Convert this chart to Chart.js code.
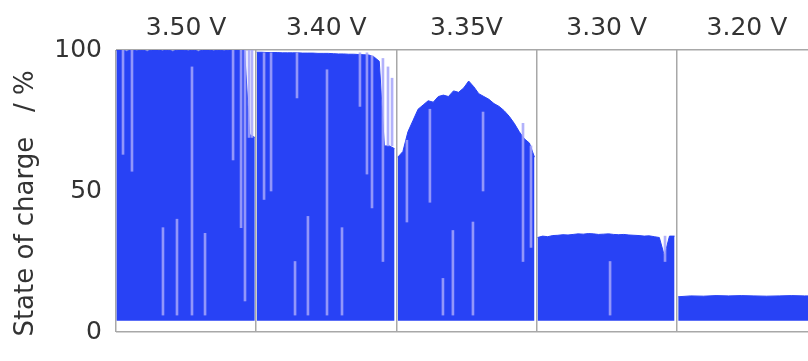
<!DOCTYPE html>
<html>
<head>
<meta charset="utf-8">
<script src="https://cdn.jsdelivr.net/npm/chart.js@4/dist/chart.umd.min.js"></script>
<style>
  html, body { margin: 0; padding: 0; background: #fff; overflow: hidden; }
  #wrap { width: 808px; height: 361px; overflow: hidden; }
  canvas { display: block; }
</style>
</head>
<body>
<div id="wrap"><canvas id="c" width="830" height="361"></canvas></div>
<script>
// ---- data ----
const panelLabels = ["3.50 V", "3.40 V", "3.35V", "3.30 V", "3.20 V"];
const baseSoc = [4, 4, 4, 4, 4];               // lower edge of the oscillation, %
const spanStart = [0.003, 0.004, 0.01, 0.007, 0.01]; // fraction of each test period with data
const spanEnd   = [0.99, 0.987, 0.985, 0.984, 1.0];

// upper envelope of state of charge, % (evenly sampled over each test period)
const soc350 = [100, 100, 99.6, 100, 99.7, 100, 99.6, 100, 100, 99.7, 100, 99.6, 100, 100,
                99.7, 100, 99.6, 100, 100, 99.7, 100, 99.7, 100, 100, 100, 100, 70, 69];
const soc340 = [99.2, 99.2, 99.1, 99.1, 99.1, 99, 99, 99, 99, 98.9, 98.9, 98.9, 98.8, 98.8,
                98.8, 98.7, 98.6, 98.6, 98.5, 98.5, 98.4, 98.3, 98.2, 97.5, 96, 66, 66, 65];
const soc335 = [62, 64, 71, 75, 79, 80.5, 82, 81.5, 83.5, 84, 83.5, 85.5, 85, 86.5,
                89, 87, 84.5, 83.5, 82.5, 81, 80, 78.5, 76.5, 74, 71, 68.5, 67, 62];
const soc330 = [33.5, 34.0, 33.8, 34.2, 34.3, 34.5, 34.4, 34.6, 34.8, 34.7, 34.9, 34.8, 34.6, 34.7,
                34.8, 34.6, 34.5, 34.6, 34.4, 34.3, 34.2, 34.0, 34.1, 33.8, 33.5, 27, 34.0, 34.0];
const soc320 = [12.5, 12.8, 12.7, 12.9, 12.8, 12.9, 12.8, 12.7, 12.8, 12.9, 12.8, 12.8];
const envelopes = [soc350, soc340, soc335, soc330, soc320];

// lighter streaks (sparser excursions): time position (panel units), low %, high %
const streakTime = [0.050, 0.114, 0.335, 0.435, 0.542, 0.635, 0.835, 0.892, 0.920, 0.949, 0.970,
                    1.056, 1.106, 1.291, 1.277, 1.369, 1.505, 1.612, 1.740, 1.790, 1.826, 1.904, 1.940, 1.969,
                    2.075, 2.239, 2.332, 2.403, 2.546, 2.618, 2.903, 2.960,
                    3.524, 3.916];
const streakLow  = [63, 57, 6, 6, 6, 6, 61, 37, 11, 69, 69,
                    47, 50, 83, 6, 6, 6, 6, 80, 56, 44, 25, 66, 66,
                    39, 46, 6, 6, 6, 50, 25, 30,
                    6, 25];
const streakHigh = [100, 100, 37, 40, 94, 35, 100, 100, 100, 100, 100,
                    99, 99, 99, 25, 41, 93, 37, 99, 99, 98, 97, 94, 90,
                    68, 79, 19, 36, 39, 78, 74, 66,
                    25, 34];

// ---- build datasets ----
const BLUE = '#2842f5';
const datasets = envelopes.map((vals, p) => {
  const n = vals.length;
  const s = spanStart[p], e = spanEnd[p];
  return {
    type: 'line',
    order: 2,
    data: vals.map((v, i) => ({ x: p + s + (e - s) * i / (n - 1), y: v })),
    borderColor: BLUE,
    borderWidth: 1,
    backgroundColor: BLUE,
    pointRadius: 0,
    tension: 0,
    fill: { target: { value: baseSoc[p] } }
  };
});
datasets.push({
  type: 'bar',
  order: 1,
  data: streakTime.map((t, i) => ({ x: t, y: [streakLow[i], streakHigh[i]] })),
  backgroundColor: 'rgba(165,165,250,0.85)',
  borderWidth: 0,
  barThickness: 2,
  grouped: false
});

const FONT = 'DejaVu Sans';
new Chart(document.getElementById('c'), {
  data: { datasets },
  options: {
    responsive: false,
    animation: false,
    devicePixelRatio: 1,
    layout: { padding: { top: 0, right: 13, bottom: 10, left: 0 } },
    plugins: { legend: { display: false }, tooltip: { enabled: false } },
    scales: {
      x: {
        type: 'linear', position: 'bottom', min: 0, max: 5, offset: false,
        ticks: { display: false, stepSize: 1 },
        grid: { color: '#a8a8a8', lineWidth: 1.5, drawTicks: false, offset: false },
        border: { display: false },
        afterFit: s => { s.height = 0; }
      },
      xTop: {
        type: 'linear', position: 'top', min: 0, max: 5, offset: false,
        afterBuildTicks: s => { s.ticks = panelLabels.map((l, i) => ({ value: i + 0.5 })); },
        ticks: {
          autoSkip: false, maxRotation: 0, padding: 7,
          color: '#333', font: { family: FONT, size: 25 },
          callback: (v, i) => panelLabels[i]
        },
        grid: { display: false, drawTicks: false },
        border: { display: false },
        afterFit: s => { s.height = 50; }
      },
      y: {
        min: 0, max: 100,
        ticks: { stepSize: 50, padding: 14, color: '#333', font: { family: FONT, size: 25 } },
        grid: {
          drawTicks: false, lineWidth: 1.5,
          color: c => (c.tick && (c.tick.value === 0 || c.tick.value === 100)) ? '#a8a8a8' : 'rgba(0,0,0,0)'
        },
        border: { display: false },
        title: {
          display: true, text: 'State of charge   / %   ',
          color: '#333', font: { family: FONT, size: 26 },
          padding: { top: 11, bottom: 0 }
        },
        afterFit: s => { s.width = 116; }
      }
    }
  }
});
</script>
</body>
</html>
